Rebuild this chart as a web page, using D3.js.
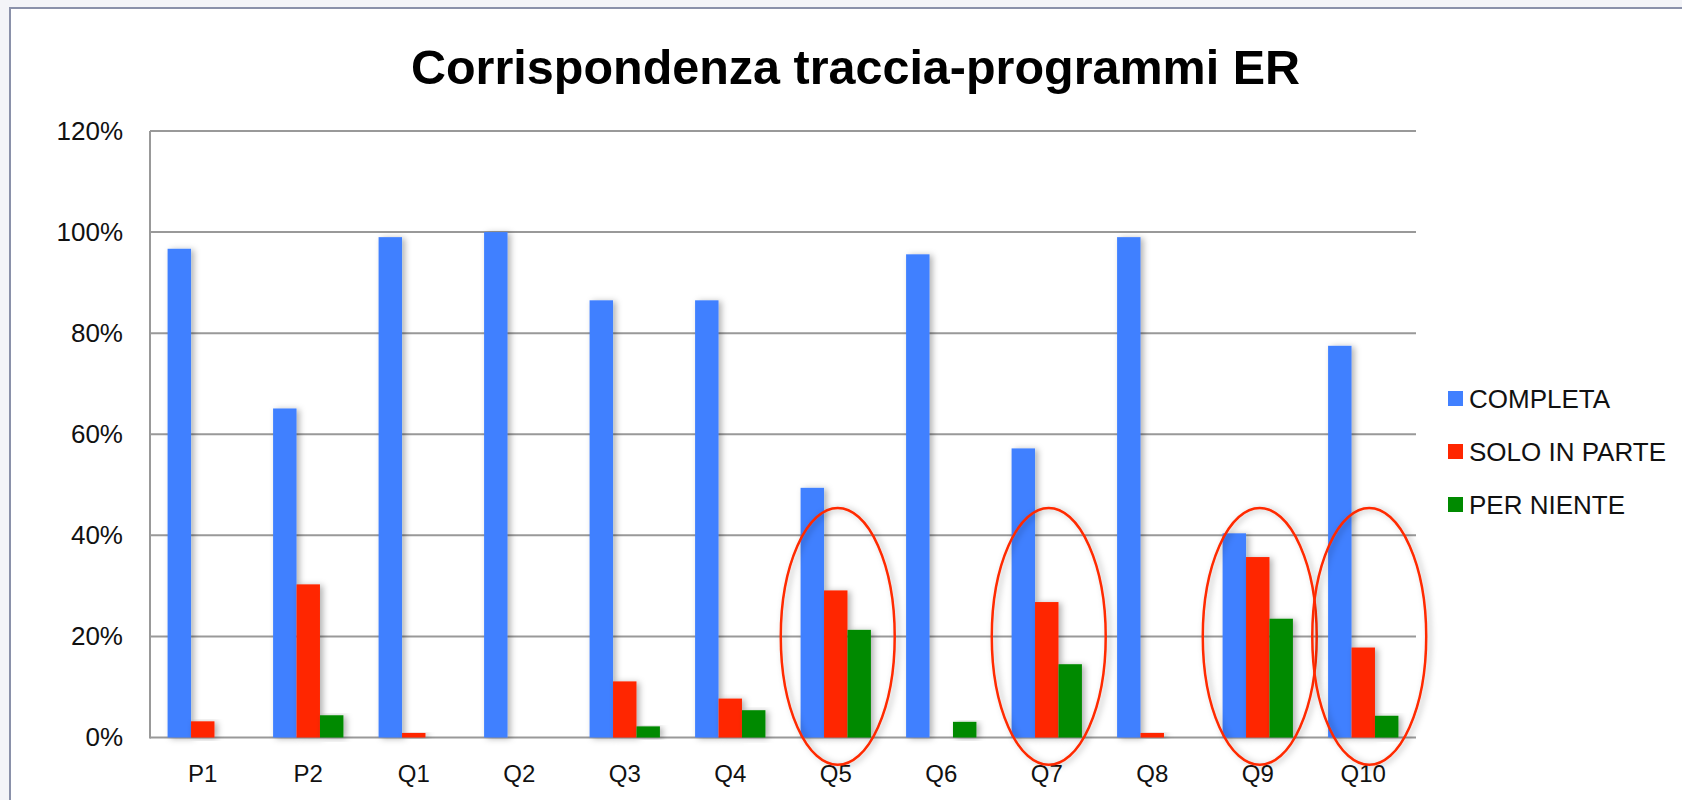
<!DOCTYPE html>
<html>
<head>
<meta charset="utf-8">
<script src="https://cdn.jsdelivr.net/npm/d3@7"></script>
<style>
  html, body { margin: 0; padding: 0; background: #f3f4f8; }
  svg { display: block; }
</style>
</head>
<body>
<svg id="chart" width="1682" height="800"></svg>
<script>
// ---- data ----
const categories = ["P1", "P2", "Q1", "Q2", "Q3", "Q4", "Q5", "Q6", "Q7", "Q8", "Q9", "Q10"];
const seriesNames = ["COMPLETA", "SOLO IN PARTE", "PER NIENTE"];
const completa    = [0.967, 0.651, 0.990, 1.000, 0.865, 0.865, 0.494, 0.956, 0.572, 0.990, 0.404, 0.775];
const soloInParte = [0.032, 0.303, 0.009, 0.000, 0.111, 0.077, 0.291, 0.000, 0.268, 0.009, 0.357, 0.178];
const perNiente   = [0.000, 0.044, 0.000, 0.000, 0.022, 0.054, 0.213, 0.031, 0.145, 0.000, 0.235, 0.043];
const yTicks = [0, 0.2, 0.4, 0.6, 0.8, 1.0, 1.2];
const highlighted = ["Q5", "Q7", "Q9", "Q10"];
const title = "Corrispondenza traccia-programmi ER";
const colors = ["#4180ff", "#ff2600", "#008a00"];

const seriesValues = [completa, soloInParte, perNiente];

const svg = d3.select("#chart");
const W = 1682, H = 800;

// frame
svg.append("rect").attr("x", 0).attr("y", 0).attr("width", W).attr("height", H).attr("fill", "#f3f4f8");
svg.append("rect").attr("x", 10).attr("y", 8).attr("width", W).attr("height", H)
  .attr("fill", "#ffffff").attr("stroke", "#8a91aa").attr("stroke-width", 2);

// shadow filter
const defs = svg.append("defs");
const f = defs.append("filter").attr("id", "shadow").attr("x", "-30%").attr("y", "-10%").attr("width", "180%").attr("height", "130%");
f.append("feDropShadow").attr("dx", 3).attr("dy", 1).attr("stdDeviation", 3)
  .attr("flood-color", "#000").attr("flood-opacity", 0.3);

const plot = { left: 150, right: 1416, top: 131, bottom: 737.5 };

const x0 = d3.scaleBand().domain(categories).range([plot.left, plot.right])
  .paddingInner(1/3).paddingOuter(1/6);
const x1 = d3.scaleBand().domain(seriesNames).range([0, x0.bandwidth()]);
const y = d3.scaleLinear().domain([0, 1.2]).range([plot.bottom, plot.top]);

// gridlines
svg.append("g").selectAll("line").data(yTicks).join("line")
  .attr("x1", plot.left).attr("x2", plot.right)
  .attr("y1", d => y(d)).attr("y2", d => y(d))
  .attr("stroke", "#999").attr("stroke-width", 2);
// left axis line
svg.append("line").attr("x1", plot.left).attr("x2", plot.left)
  .attr("y1", plot.top).attr("y2", plot.bottom + 1)
  .attr("stroke", "#999").attr("stroke-width", 2);

// y axis labels
const yAxis = d3.axisLeft(y).tickValues(yTicks).tickFormat(d3.format(".0%")).tickSize(0).tickPadding(27);
const gy = svg.append("g").attr("transform", `translate(${plot.left},0)`).call(yAxis);
gy.select(".domain").remove();
gy.selectAll("text").attr("font-family", "Liberation Sans, Arial, sans-serif")
  .attr("font-size", 26).attr("fill", "#111").attr("dy", "0.32em");

// x axis labels
const xAxis = d3.axisBottom(x0).tickSize(0).tickPadding(0);
const gx = svg.append("g").attr("transform", `translate(0,${plot.bottom})`).call(xAxis);
gx.select(".domain").remove();
gx.selectAll("text").attr("font-family", "Liberation Sans, Arial, sans-serif")
  .attr("font-size", 24).attr("fill", "#111").attr("dy", null).attr("y", 44);

// bars
const rows = [];
categories.forEach((c, i) => {
  seriesNames.forEach((s, j) => rows.push({ cat: c, series: s, value: seriesValues[j][i], color: colors[j] }));
});
svg.append("g").selectAll("rect").data(rows.filter(d => d.value > 0)).join("rect")
  .attr("x", d => x0(d.cat) + x1(d.series))
  .attr("y", d => y(d.value))
  .attr("width", x1.bandwidth())
  .attr("height", d => y(0) - y(d.value))
  .attr("fill", d => d.color)
  .attr("filter", "url(#shadow)");

// highlight ellipses
svg.append("g").selectAll("ellipse").data(highlighted).join("ellipse")
  .attr("cx", (d, i) => x0(d) + x0.bandwidth() / 2 + (d === "Q10" ? 6 : 2))
  .attr("cy", y(0.2))
  .attr("rx", x0.step() * 0.54)
  .attr("ry", (y(0) - y(0.254)))
  .attr("fill", "none")
  .attr("stroke", "#ff2a00")
  .attr("stroke-width", 2.5)
  .attr("filter", "url(#shadow)");

// title
svg.append("text").attr("x", 411).attr("y", 84)
  .attr("font-family", "Liberation Sans, Arial, sans-serif")
  .attr("font-weight", "bold").attr("font-size", 48).attr("fill", "#000")
  .attr("textLength", 889).attr("lengthAdjust", "spacingAndGlyphs")
  .text(title);

// legend
const lg = svg.append("g").attr("transform", "translate(1448,399)");
const li = lg.selectAll("g").data(seriesNames).join("g")
  .attr("transform", (d, i) => `translate(0,${i * 53})`);
li.append("rect").attr("x", 0).attr("y", -8).attr("width", 15).attr("height", 15)
  .attr("fill", (d, i) => colors[i]);
li.append("text").attr("x", 21).attr("y", 0).attr("dy", "0.35em")
  .attr("font-family", "Liberation Sans, Arial, sans-serif")
  .attr("font-size", 26).attr("fill", "#111")
  .text(d => d);
</script>
</body>
</html>
